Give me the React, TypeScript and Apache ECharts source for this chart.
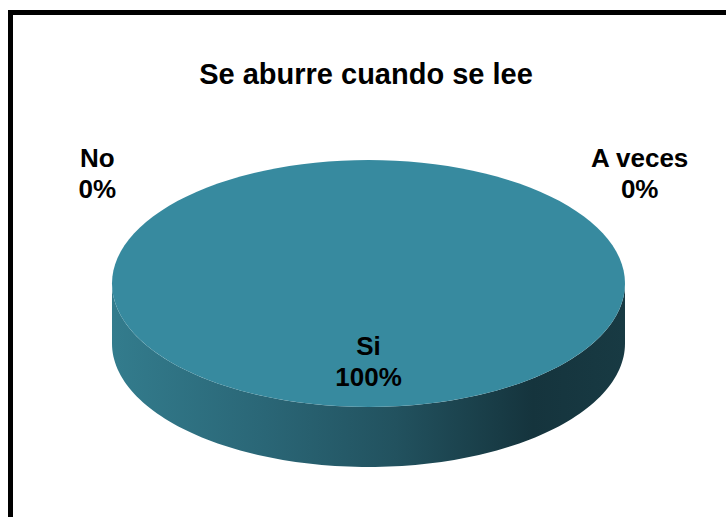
import React, { useEffect, useRef } from 'react';
import * as echarts from 'echarts';

const categories = ['Si', 'No', 'A veces'];
const values = [100, 0, 0];
const sliceColors = ['#378a9f', '#8a3a3a', '#7a9a3a'];
const titleText = 'Se aburre cuando se lee';

export default function App() {
  const ref = useRef<HTMLDivElement>(null);

  useEffect(() => {
    const chart = echarts.init(ref.current as HTMLDivElement, null, { renderer: 'svg' });
    const total = values.reduce((a, b) => a + b, 0);
    const cx = 368.5, cy = 283.5, rx = 256.5, ry = 123.5, depth = 60;
    const N = 120;
    const pt = (deg: number, k = 1, dy = 0) => {
      const t = (deg * Math.PI) / 180;
      return [cx + rx * k * Math.sin(t), cy - ry * k * Math.cos(t) + dy];
    };
    const starts: number[] = [];
    let acc = 0;
    values.forEach((v) => {
      starts.push(acc);
      acc += (v / total) * 360;
    });
    let zc = 0;
    const zeroIdx = values.map((v) => (v === 0 ? zc++ : -1));

    const sideGradient = () =>
      new echarts.graphic.LinearGradient(0, 0, 1, 0, [
        { offset: 0, color: '#337c8d' },
        { offset: 0.3, color: '#2a6676' },
        { offset: 0.55, color: '#22525f' },
        { offset: 0.82, color: '#15343d' },
        { offset: 1, color: '#183a43' },
      ]);

    const renderItem = (params: any, api: any) => {
      const i = params.dataIndex;
      const v = api.value(1);
      const a0 = starts[i];
      const a1 = a0 + (v / total) * 360;
      const children: any[] = [];
      if (a1 > a0) {
        const s0 = Math.max(a0, 90);
        const s1 = Math.min(a1, 270);
        if (s1 > s0) {
          const top: number[][] = [];
          const bot: number[][] = [];
          for (let n = 0; n <= N; n++) {
            const a = s0 + ((s1 - s0) * n) / N;
            top.push(pt(a));
            bot.push(pt(a, 1, depth));
          }
          children.push({
            type: 'polygon',
            shape: { points: top.concat(bot.reverse()) },
            style: { fill: sideGradient() },
          });
        }
        const pts: number[][] = [];
        for (let n = 0; n <= N; n++) pts.push(pt(a0 + ((a1 - a0) * n) / N));
        if (a1 - a0 < 360) pts.push([cx, cy]);
        children.push({
          type: 'polygon',
          shape: { points: pts },
          style: { fill: sliceColors[i] },
        });
      }
      let pos: number[];
      if (v === 0) {
        pos = pt(zeroIdx[i] === 0 ? -50 : 50, 1.38);
      } else {
        pos = pt((a0 + a1) / 2, 0.63);
      }
      children.push({
        type: 'text',
        x: pos[0],
        y: pos[1],
        style: {
          text: categories[i] + '\n' + Math.round((v / total) * 100) + '%',
          fill: '#000',
          fontSize: 26,
          fontWeight: 'bold',
          fontFamily: '"Liberation Sans", Arial, sans-serif',
          align: 'center',
          verticalAlign: 'middle',
          lineHeight: 31,
        },
      });
      return { type: 'group', children };
    };

    chart.setOption({
      animation: false,
      graphic: [
        {
          type: 'rect',
          shape: { x: 10.5, y: 12.5, width: 800, height: 600 },
          style: { fill: 'none', stroke: '#000', lineWidth: 5 },
        },
        {
          type: 'text',
          x: 366,
          y: 74,
          style: {
            text: titleText,
            fill: '#000',
            fontSize: 29,
            fontWeight: 'bold',
            fontFamily: '"Liberation Sans", Arial, sans-serif',
            align: 'center',
            verticalAlign: 'middle',
          },
        },
      ],
      series: [
        {
          type: 'custom',
          coordinateSystem: 'none',
          renderItem,
          data: values.map((v, i) => ({ name: categories[i], value: [i, v] })),
        },
      ],
    });
    return () => chart.dispose();
  }, []);

  return (
    <div
      ref={ref}
      style={{ position: 'absolute', left: 0, top: 0, width: 726, height: 517, background: '#fff' }}
    />
  );
}
